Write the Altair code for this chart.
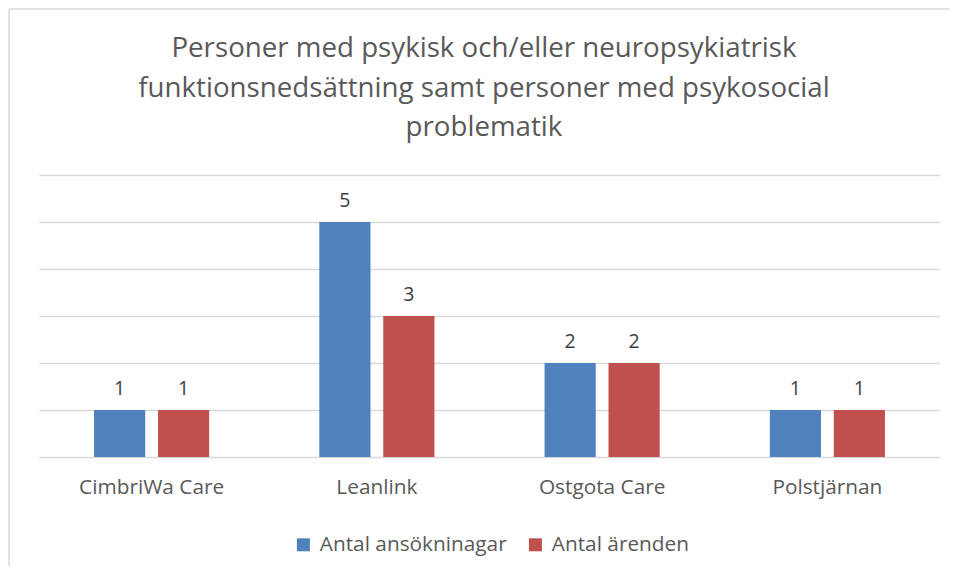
import altair as alt
import pandas as pd

categories = ["CimbriWa Care", "Leanlink", "Ostgota Care", "Polstjärnan"]
series_names = ["Antal ansökninagar", "Antal ärenden"]
ansokningar = [1, 5, 2, 1]
arenden = [1, 3, 2, 1]
colors = ["#4F81BD", "#C0504D"]
title_lines = ["Personer med psykisk och/eller neuropsykiatrisk",
               "funktionsnedsättning samt personer med psykosocial",
               "problematik"]

rows = []
for c, a, r in zip(categories, ansokningar, arenden):
    rows.append({"Leverantör": c, "Serie": series_names[0], "Antal": a})
    rows.append({"Leverantör": c, "Serie": series_names[1], "Antal": r})
df = pd.DataFrame(rows)

FONT = "Open Sans"
LABEL_SIZE = 20.8

x = alt.X("Leverantör:N", sort=categories,
          scale=alt.Scale(paddingInner=0.489, paddingOuter=0.2445),
          axis=alt.Axis(title=None, labelAngle=0, domain=False, ticks=False, grid=False,
                        labelPadding=20, labelFontSize=LABEL_SIZE, labelColor="#595959",
                        labelFont=FONT))
xoff = alt.XOffset("Serie:N", sort=series_names,
                   scale=alt.Scale(paddingInner=0.2, paddingOuter=0))
y = alt.Y("Antal:Q", scale=alt.Scale(domain=[0, 6], nice=False),
          axis=alt.Axis(title=None, labels=False, ticks=False, domain=False, grid=True,
                        values=[0, 1, 2, 3, 4, 5, 6],
                        gridColor="#d9d9d9", gridWidth=1.5))

base = alt.Chart(df)
bars = base.mark_bar().encode(
    x=x, xOffset=xoff, y=y,
    color=alt.Color("Serie:N", sort=series_names,
                    scale=alt.Scale(domain=series_names, range=colors),
                    legend=alt.Legend(title=None, orient="none", direction="horizontal",
                                      legendX=254, legendY=359,
                                      symbolType="square", symbolSize=169,
                                      symbolStrokeWidth=0, labelFontSize=LABEL_SIZE,
                                      labelColor="#595959", labelFont=FONT,
                                      labelLimit=400, labelOffset=6, columnPadding=18)),
)
labels = base.mark_text(dy=-21, fontSize=19.5, color="#404040", font=FONT).encode(
    x=x, xOffset=xoff, y=y, text="Antal:Q")

one = pd.DataFrame({"a": [0]})
title = alt.Chart(one).mark_text(
    fontSize=27.7, font=FONT, color="#595959", align="center", baseline="middle",
    lineHeight=39.5).encode(
    x=alt.value(445), y=alt.value(-126), text=alt.value(title_lines))

border_left = alt.Chart(one).mark_rule(color="#d9d9d9", strokeWidth=1.5).encode(
    x=alt.value(-30), y=alt.value(-166), y2=alt.value(400))
border_top = alt.Chart(one).mark_rule(color="#d9d9d9", strokeWidth=1.5).encode(
    x=alt.value(-30), x2=alt.value(920), y=alt.value(-166))

chart = alt.layer(bars, labels, title, border_left, border_top).properties(
    width=901, height=282,
    autosize=alt.AutoSizeParams(type="none"),
    padding={"left": 31, "top": 167, "right": 9, "bottom": 109},
).configure_view(stroke=None)

chart.save("out.html", embed_options={"renderer": "svg", "actions": False})
